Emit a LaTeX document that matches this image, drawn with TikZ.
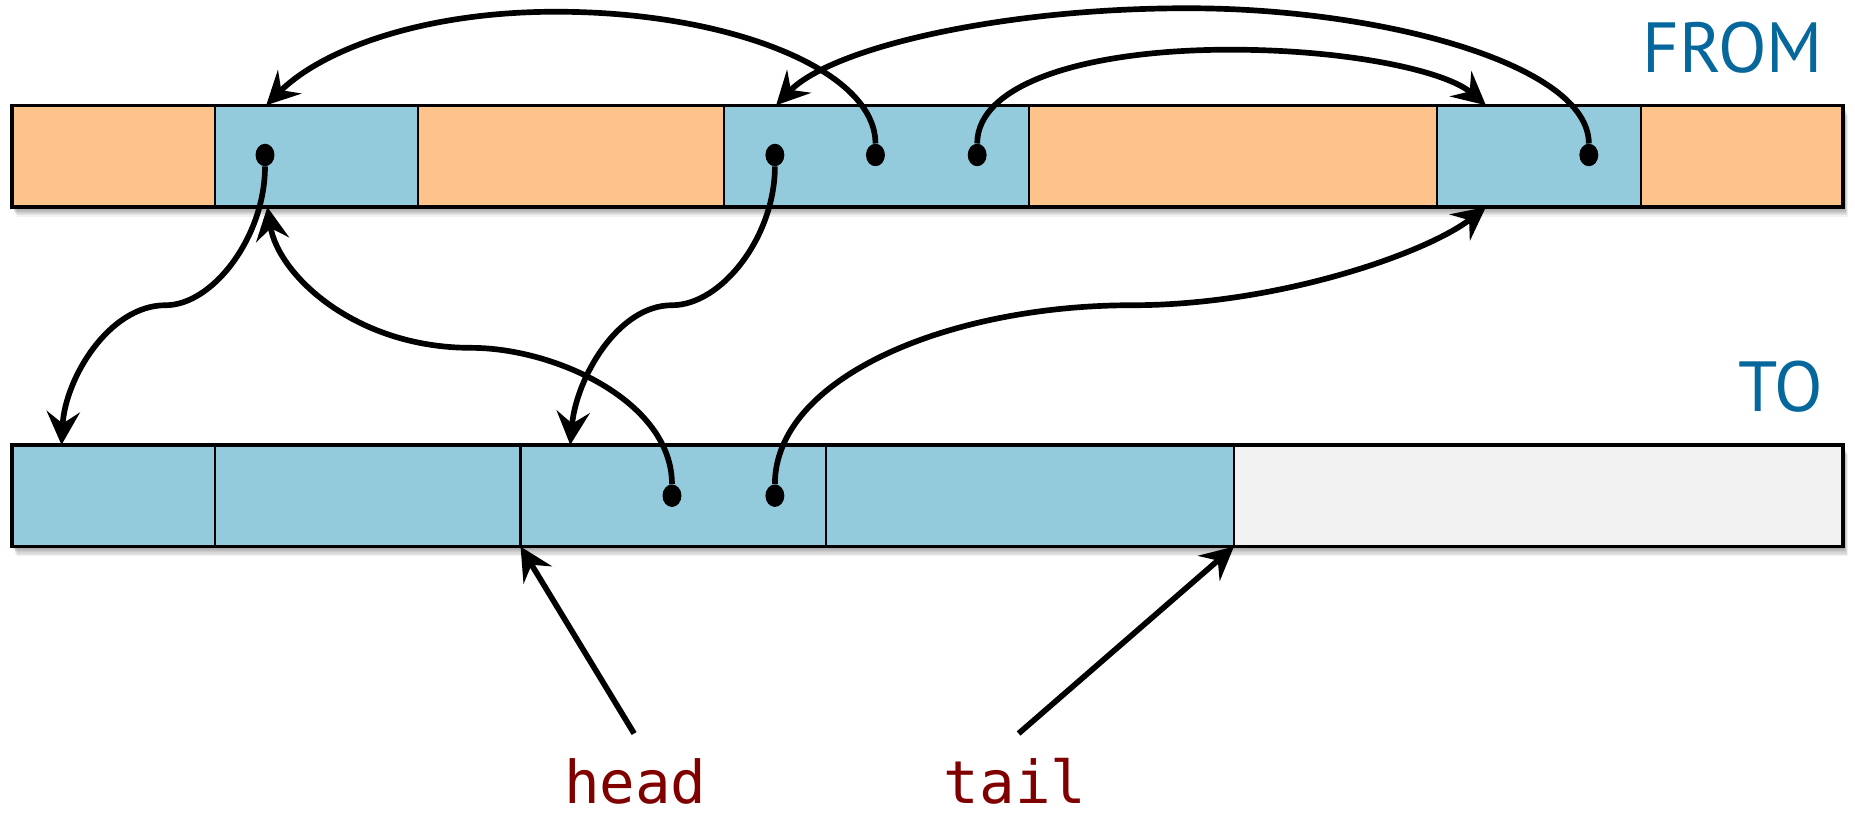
\documentclass[tikz,border=0pt]{standalone}
\usepackage{fontspec}
\setmainfont{PT Sans}
\newfontfamily\monofnt{DejaVu Sans Mono}
\usetikzlibrary{arrows.meta,shapes.geometric}
\definecolor{orng}{HTML}{FDC38A}
\definecolor{cblue}{HTML}{94CBDC}
\definecolor{cgray}{HTML}{F2F2F2}
\definecolor{lblue}{HTML}{05679B}
\definecolor{dred}{HTML}{800000}
\begin{document}
\begin{tikzpicture}[x=1pt,y=-1pt,
  cell/.style={draw=black, line width=1.8pt, minimum height=86pt, inner sep=0pt, outer sep=0pt, anchor=west},
  frame/.style={draw=black, line width=3pt},
  dotnode/.style={ellipse, fill=black, inner sep=0pt, minimum width=16pt, minimum height=19pt},
  link/.style={line width=4.8pt, -{Stealth[length=28pt,width=28pt,inset=10pt]}},
  title/.style={text=lblue, inner sep=0pt, font=\fontsize{60pt}{60pt}\selectfont},
  code/.style={text=dred, inner sep=0pt, font=\monofnt\fontsize{50pt}{50pt}\selectfont}
]
\useasboundingbox (0,0) rectangle (1568,689);

% shadows
\foreach \k in {1,...,8} {
  \fill[black, opacity=0.055] (10+0.5*\k,89+\k) rectangle (1558+0.5*\k,175+\k);
  \fill[black, opacity=0.055] (10+0.5*\k,376+\k) rectangle (1558+0.5*\k,462+\k);
}

% FROM bar
\node[cell, fill=orng,  minimum width=172pt] (f1) at (10,132) {};
\node[cell, fill=cblue, minimum width=171pt] (f2) at (182,132) {};
\node[cell, fill=orng,  minimum width=259pt] (f3) at (353,132) {};
\node[cell, fill=cblue, minimum width=258pt] (f4) at (612,132) {};
\node[cell, fill=orng,  minimum width=345pt] (f5) at (870,132) {};
\node[cell, fill=cblue, minimum width=172pt] (f6) at (1215,132) {};
\node[cell, fill=orng,  minimum width=171pt] (f7) at (1387,132) {};
\draw[frame] (f1.north west) rectangle (f7.south east);

% TO bar
\node[cell, fill=cblue, minimum width=172pt] (t1) at (10,419) {};
\node[cell, fill=cblue, minimum width=258pt] (t2) at (182,419) {};
\node[cell, fill=cblue, minimum width=258pt] (t3) at (440,419) {};
\node[cell, fill=cblue, minimum width=345pt] (t4) at (698,419) {};
\node[cell, fill=cgray, minimum width=515pt] (t5) at (1043,419) {};
\draw[frame] (t1.north west) rectangle (t5.south east);

% titles
\node[title, anchor=base east] (fromlbl) at (1541,61) {FROM};
\node[title, anchor=base east] (tolbl) at (1541,348) {TO};

% dots
\node[dotnode] (a1) at (224,131) {};
\node[dotnode] (a2) at (655,131) {};
\node[dotnode] (a3) at (740,131) {};
\node[dotnode] (a4) at (826,131) {};
\node[dotnode] (a5) at (1343,131) {};
\node[dotnode] (b1) at (568,419) {};
\node[dotnode] (b2) at (655,419) {};

% target points
\coordinate (pA) at (225,89);
\coordinate (pB) at (656,89);
\coordinate (pC) at (1256,89);
\coordinate (pD) at (226,175);
\coordinate (pE) at (1256,175);
\coordinate (qA) at (52,376);
\coordinate (qB) at (482,376);

% connectors
\draw[link] (a3) .. controls (740,60) and (620,12) .. (480,10)
            .. controls (360,8) and (272,42) .. (pA);
\draw[link] (a5) .. controls (1343,55) and (1170,8) .. (1010,7)
            .. controls (850,6) and (703,40) .. (pB);
\draw[link] (a4) .. controls (826,70) and (920,42) .. (1040,42)
            .. controls (1140,42) and (1222,60) .. (pC);
\draw[link] (a1) .. controls (224,200) and (180,258) .. (140,258)
            .. controls (92,258) and (55,320) .. (qA);
\draw[link] (a2) .. controls (655,200) and (610,258) .. (568,258)
            .. controls (522,258) and (487,320) .. (qB);
\draw[link] (b1) .. controls (568,340) and (470,294) .. (398,294)
            .. controls (300,294) and (235,232) .. (pD);
\draw[link] (b2) .. controls (655,320) and (800,258) .. (957,258)
            .. controls (1080,258) and (1206,214) .. (pE);

% head / tail
\node[code, anchor=base] (headlbl) at (537,679) {head};
\node[code, anchor=base] (taillbl) at (858,679) {tail};
\coordinate (hs) at (536,620);
\coordinate (ts) at (861,620);
\draw[link] (hs) -- (t3.south west);
\draw[link] (ts) -- (t5.south west);
\end{tikzpicture}
\end{document}
